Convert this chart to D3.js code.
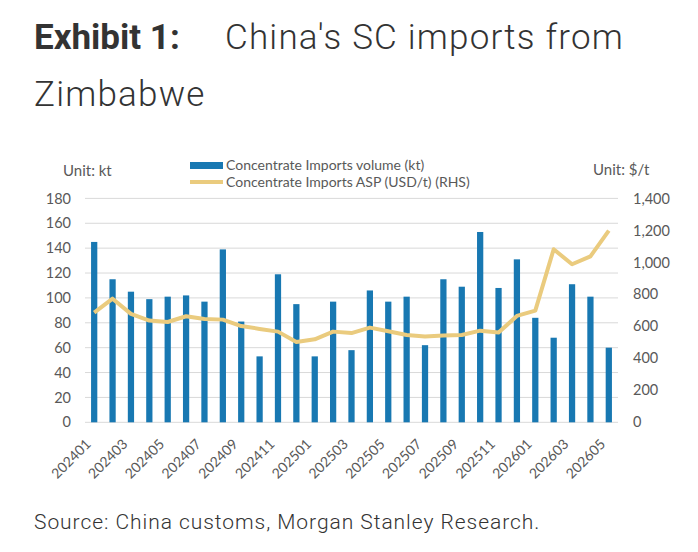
<!DOCTYPE html>
<html>
<head>
<meta charset="utf-8">
<script src="https://cdn.jsdelivr.net/npm/d3@7"></script>
<style>
  body { margin: 0; background: #fff; }
  svg { display: block; }
</style>
</head>
<body>
<svg width="698" height="552"></svg>
<script>
    // months 202401 .. 202605
    var months = ["202401","202402","202403","202404","202405","202406","202407","202408","202409","202410","202411","202412",
                  "202501","202502","202503","202504","202505","202506","202507","202508","202509","202510","202511","202512",
                  "202601","202602","202603","202604","202605"];

    var volume = [145, 115, 105, 99, 101, 102, 97, 139, 81, 53, 119, 95,
                  53, 97, 58, 106, 97, 101, 62, 115, 109, 153, 108, 131,
                  84, 68, 111, 101, 60];

    var asp = [686, 773, 678, 636, 627, 663, 646, 642, 602, 584, 567, 502,
               519, 567, 558, 592, 569, 546, 536, 542, 546, 573, 561, 665,
               698, 1082, 988, 1038, 1199];

    var leftTicks = [0, 20, 40, 60, 80, 100, 120, 140, 160, 180];
    var rightTicks = [0, 200, 400, 600, 800, 1000, 1200, 1400];

    var svg = d3.select("svg");
    var axisFont = "Lato, 'Noto Sans', sans-serif";
    var textCol = "#595959";

    var x = d3.scaleBand().domain(months).range([85, 618]).paddingInner(0.66).paddingOuter(0.33);
    var xc = d3.scalePoint().domain(months).range([85, 618]).padding(0.5);
    var yL = d3.scaleLinear().domain([0, 180]).range([422.3, 198.4]);
    var yR = d3.scaleLinear().domain([0, 1400]).range([422.3, 198.4]);

    // title
    var title = svg.append("text").attr("x", 34).attr("y", 49)
        .attr("font-family", "Roboto, sans-serif").attr("font-size", 35).attr("fill", "#333");
    title.append("tspan").attr("font-weight", "bold").text("Exhibit 1:");
    title.append("tspan").attr("x", 225).attr("font-weight", 300).attr("letter-spacing", 1.2)
        .text("China's SC imports from");
    svg.append("text").attr("x", 34).attr("y", 106)
        .attr("font-family", "Roboto, sans-serif").attr("font-size", 35).attr("font-weight", 300)
        .attr("letter-spacing", 1.2).attr("fill", "#333").text("Zimbabwe");

    // gridlines
    svg.append("g").selectAll("line").data(leftTicks).enter().append("line")
        .attr("x1", 85).attr("x2", 618)
        .attr("y1", function(d) { return yL(d); }).attr("y2", function(d) { return yL(d); })
        .attr("stroke", "#d9d9d9").attr("stroke-width", 1);

    // left axis
    var gl = svg.append("g").attr("transform", "translate(71,0)")
        .call(d3.axisLeft(yL).tickValues(leftTicks).tickSize(0).tickPadding(0));
    gl.select(".domain").remove();
    gl.selectAll("text").attr("font-family", axisFont).attr("font-size", 14.5).attr("fill", textCol);

    // right axis
    var gr = svg.append("g").attr("transform", "translate(633,0)")
        .call(d3.axisRight(yR).tickValues(rightTicks).tickSize(0).tickPadding(0).tickFormat(d3.format(",")));
    gr.select(".domain").remove();
    gr.selectAll("text").attr("font-family", axisFont).attr("font-size", 14.5).attr("fill", textCol);

    // bottom axis, every other label
    var gb = svg.append("g").attr("transform", "translate(0,423)")
        .call(d3.axisBottom(xc).tickSize(0).tickPadding(0)
            .tickFormat(function(d, i) { return i % 2 === 0 ? d : ""; }));
    gb.select(".domain").remove();
    gb.selectAll("text")
        .attr("font-family", axisFont).attr("font-size", 14).attr("fill", textCol)
        .attr("text-anchor", "end").attr("dy", 0)
        .attr("transform", "translate(-3,22) rotate(-45)");

    // bars
    svg.append("g").selectAll("rect").data(volume).enter().append("rect")
        .attr("x", function(d, i) { return x(months[i]); })
        .attr("width", x.bandwidth())
        .attr("y", function(d) { return yL(d); })
        .attr("height", function(d) { return yL(0) - yL(d); })
        .attr("fill", "#1878B2");

    // line
    var line = d3.line()
        .x(function(d, i) { return xc(months[i]); })
        .y(function(d) { return yR(d); });

    svg.append("path").datum(asp)
        .attr("fill", "none").attr("stroke", "#EACB7E").attr("stroke-width", 4)
        .attr("stroke-linejoin", "round").attr("stroke-linecap", "butt")
        .attr("d", line);

    // legend
    svg.append("rect").attr("x", 190).attr("y", 162).attr("width", 33).attr("height", 7).attr("fill", "#1878B2");
    svg.append("line").attr("x1", 190).attr("x2", 223).attr("y1", 182).attr("y2", 182)
        .attr("stroke", "#EACB7E").attr("stroke-width", 4);
    svg.append("text").attr("x", 226).attr("y", 170).attr("font-family", axisFont).attr("font-size", 14)
        .attr("fill", textCol).text("Concentrate Imports volume (kt)");
    svg.append("text").attr("x", 226).attr("y", 187).attr("font-family", axisFont).attr("font-size", 14)
        .attr("fill", textCol).text("Concentrate Imports ASP (USD/t) (RHS)");

    // units
    svg.append("text").attr("x", 63).attr("y", 176).attr("font-family", axisFont).attr("font-size", 15)
        .attr("fill", textCol).text("Unit: kt");
    svg.append("text").attr("x", 593).attr("y", 175).attr("font-family", axisFont).attr("font-size", 15)
        .attr("fill", textCol).text("Unit: $/t");

    // source
    svg.append("text").attr("x", 34).attr("y", 529)
        .attr("font-family", "Roboto, sans-serif").attr("font-size", 21).attr("font-weight", 300)
        .attr("letter-spacing", 0.95).attr("fill", "#333").text("Source: China customs, Morgan Stanley Research.");
</script>
</body>
</html>
